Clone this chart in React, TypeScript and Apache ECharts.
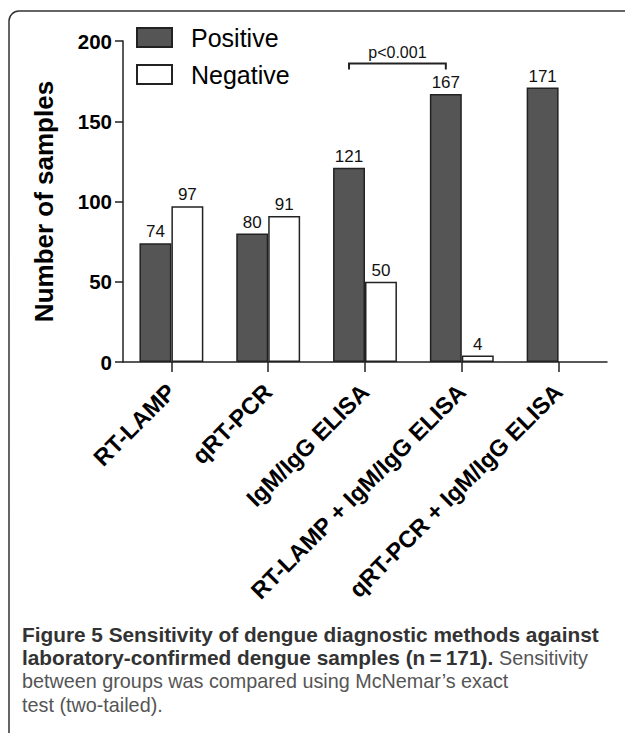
import React, { useEffect, useRef } from 'react';
import * as echarts from 'echarts';

const categories = ['RT-LAMP', 'qRT-PCR', 'IgM/IgG ELISA', 'RT-LAMP + IgM/IgG ELISA', 'qRT-PCR + IgM/IgG ELISA'];
const positive = [74, 80, 121, 167, 171];
const negative = [97, 91, 50, 4, 0];
const seriesNames = ['Positive', 'Negative'];
const yMin = 0;
const yMax = 200;
const yInterval = 50;
const yName = 'Number of samples';
const bracket = [[2, 3, 186]];
const bracketLabel = 'p<0.001';
const captionLine1 = 'Figure 5 Sensitivity of dengue diagnostic methods against';
const captionLine2Bold = 'laboratory-confirmed dengue samples (n\u2009=\u2009171).';
const captionLine2Rest = 'Sensitivity';
const captionLine3 = 'between groups was compared using McNemar\u2019s exact';
const captionLine4 = 'test (two-tailed).';

const GAP = 0.34;
const FONT = 'Arial, "Liberation Sans", Helvetica, sans-serif';
const CAP_FONT = '"Liberation Sans", Arial, sans-serif';
const CAP_BOLD = 20.8;
const CAP_REG = 19.8;

export default function App() {
  const ref = useRef<HTMLDivElement>(null);
  useEffect(() => {
    const chart = echarts.init(ref.current!, null, { renderer: 'svg' });
    const barLabel = {
      show: true,
      position: 'top',
      distance: 3,
      fontSize: 17,
      color: '#111',
      fontFamily: FONT,
      formatter: (p: any) => (p.value === 0 ? '' : String(p.value)),
    };
    const capText = (y: number, style: any) => ({
      type: 'text',
      x: 22,
      y,
      style: {
        fontFamily: CAP_FONT,
        lineHeight: 22,
        verticalAlign: 'middle',
        ...style,
      },
    });
    chart.setOption({
      animation: false,
      backgroundColor: '#fff',
      grid: { left: 123, top: 41, right: 18, bottom: 371, containLabel: false },
      legend: {
        data: seriesNames,
        orient: 'vertical',
        left: 131,
        top: 20,
        itemWidth: 35,
        itemHeight: 19,
        itemGap: 12,
        icon: 'rect',
        selectedMode: false,
        textStyle: { fontSize: 25, color: '#000', fontFamily: FONT, lineHeight: 25, padding: [0, 0, 0, 14] },
      },
      xAxis: {
        type: 'category',
        data: categories,
        axisLine: { show: true, lineStyle: { color: '#222', width: 1.5 } },
        axisTick: { show: true, alignWithLabel: true, length: 10, lineStyle: { color: '#222', width: 1.5 } },
        axisLabel: {
          interval: 0,
          rotate: 45,
          fontSize: 23.5,
          fontWeight: 'bold',
          color: '#000',
          fontFamily: FONT,
          margin: 26,
        },
        splitLine: { show: false },
      },
      yAxis: {
        type: 'value',
        min: yMin,
        max: yMax,
        interval: yInterval,
        name: yName,
        nameLocation: 'middle',
        nameGap: 66,
        nameTextStyle: { fontSize: 26, fontWeight: 'bold', color: '#000', fontFamily: FONT },
        axisLine: { show: true, lineStyle: { color: '#222', width: 1.5 } },
        axisTick: { show: true, length: 8, lineStyle: { color: '#222', width: 1.5 } },
        axisLabel: { fontSize: 20.5, fontWeight: 'bold', color: '#000', fontFamily: FONT, margin: 11 },
        splitLine: { show: false },
      },
      series: [
        {
          name: seriesNames[0],
          type: 'bar',
          data: positive,
          barGap: '0%',
          barCategoryGap: `${GAP * 100}%`,
          itemStyle: { color: '#555555', borderColor: '#222', borderWidth: 1.5 },
          label: barLabel,
        },
        {
          name: seriesNames[1],
          type: 'bar',
          data: negative.map((v) => (v === 0 ? { value: 0, itemStyle: { borderWidth: 0 } } : v)),
          barGap: '0%',
          barCategoryGap: `${GAP * 100}%`,
          itemStyle: { color: '#ffffff', borderColor: '#222', borderWidth: 1.5 },
          label: barLabel,
        },
        {
          type: 'custom',
          data: bracket,
          encode: { x: 0, y: 2 },
          clip: false,
          z: 5,
          renderItem: (params: any, api: any) => {
            const y = api.value(2);
            const a = api.coord([api.value(0), y]);
            const b = api.coord([api.value(1), y]);
            const band = api.size([1, 0])[0];
            const barW = (band * (1 - GAP)) / 2;
            const x1 = a[0] - barW / 2;
            const x2 = b[0] - barW / 2;
            const yy = a[1];
            const drop = 6;
            return {
              type: 'group',
              children: [
                {
                  type: 'polyline',
                  shape: { points: [[x1, yy + drop], [x1, yy], [x2, yy], [x2, yy + drop]] },
                  style: { stroke: '#222', lineWidth: 2, fill: null },
                },
                {
                  type: 'text',
                  style: {
                    text: bracketLabel,
                    x: (x1 + x2) / 2,
                    y: yy - 3,
                    align: 'center',
                    verticalAlign: 'bottom',
                    fontSize: 16,
                    fill: '#111',
                    fontFamily: FONT,
                  },
                },
              ],
            };
          },
        },
      ],
      graphic: [
        {
          type: 'rect',
          silent: true,
          shape: { x: 9, y: 11, width: 700, height: 800, r: 10 },
          style: { fill: 'none', stroke: '#333', lineWidth: 1.5 },
        },
        capText(634, { text: captionLine1, fontSize: CAP_BOLD, fontWeight: 'bold', fill: '#333' }),
        capText(657.5, {
          text: `{b|${captionLine2Bold}} {r|${captionLine2Rest}}`,
          fontSize: CAP_BOLD,
          rich: {
            b: { fontSize: CAP_BOLD, fontWeight: 'bold', fontFamily: CAP_FONT, fill: '#333', lineHeight: 22 },
            r: { fontSize: CAP_REG, fontWeight: 'normal', fontFamily: CAP_FONT, fill: '#555', lineHeight: 22 },
          },
        }),
        capText(681, { text: captionLine3, fontSize: CAP_REG, fill: '#555' }),
        capText(704.5, { text: captionLine4, fontSize: CAP_REG, fill: '#555' }),
      ],
    });
    return () => chart.dispose();
  }, []);
  return (
    <div
      ref={ref}
      style={{ position: 'fixed', left: 0, top: 0, width: 625, height: 733, background: '#fff' }}
    />
  );
}
